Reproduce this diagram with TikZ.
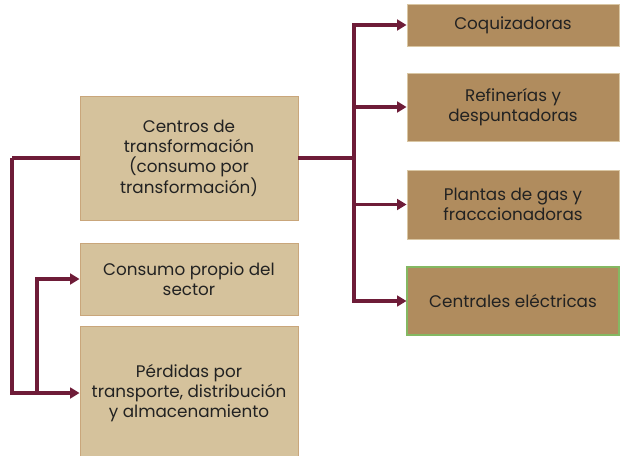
\documentclass[tikz,border=0pt]{standalone}
\usepackage{fontspec}
\setmainfont{Poppins}
\usetikzlibrary{arrows.meta}
\usetikzlibrary{positioning}
\definecolor{c1}{HTML}{D5C29C}
\definecolor{c2}{HTML}{C9A67B}
\definecolor{c3}{HTML}{B08C5E}
\definecolor{c4}{HTML}{D9C6A3}
\definecolor{c5}{HTML}{84B862}
\definecolor{c6}{HTML}{6E1C38}
\definecolor{c7}{HTML}{222222}
\tikzset{
  box_light/.style = {rectangle, draw=c2, fill=c1, line width=0.7pt, text=c7, align=center, minimum width=163.5pt, inner sep=2pt, font=\fontsize{12.6}{15.2}\selectfont},
  box_dark/.style = {rectangle, draw=c4, fill=c3, line width=0.7pt, text=c7, align=center, minimum width=159pt, inner sep=2pt, font=\fontsize{12.6}{15.2}\selectfont},
  link/.style = {c6, line width=2.8pt},
  edge/.style = {c6, line width=2.8pt, -{Triangle[length=7pt, width=8pt]}},
}

\begin{document}
\begin{tikzpicture}[x=0.75pt, y=-0.75pt]
    \useasboundingbox (0,0) rectangle (620,456);

    % left column
    \node[box_light, minimum height=93pt] (centros) at (189,158) {Centros de\\transformación\\(consumo por\\transformación)};
    \node[box_light, minimum height=54pt] (consumo) at (189,279) {Consumo propio del\\sector};
    \node[box_light, minimum height=100.5pt] (perdidas) at (189,393) {Pérdidas por\\transporte, distribución\\y almacenamiento};

    % right column
    \node[box_dark, minimum height=31.5pt] (coq) at (513,25) {Coquizadoras};
    \node[box_dark, minimum height=51pt] (refin) at (513,107) {Refinerías y\\despuntadoras};
    \node[box_dark, minimum height=51.75pt] (plantas) at (513,204.5) {Plantas de gas y\\fracccionadoras};
    \node[box_dark, draw=c5, line width=0.8pt, minimum height=51pt] (centrales) at (513,301) {Centrales eléctricas};

    \coordinate (split_r) at (354,158);
    \coordinate (split_l) at (12,158);
    \coordinate (branch_l) at (37,393);

    \draw[link] (centros.east) -- (split_r);
    \draw[edge] (split_r) |- (coq.west);
    \draw[edge] (split_r) |- (refin.west);
    \draw[edge] (split_r) |- (plantas.west);
    \draw[edge] (split_r) |- (centrales.west);

    \draw[link] (centros.west) -- (split_l);
    \draw[edge] (split_l) |- (perdidas.west);
    \draw[edge] (branch_l) |- (consumo.west);

\end{tikzpicture}
\end{document}
